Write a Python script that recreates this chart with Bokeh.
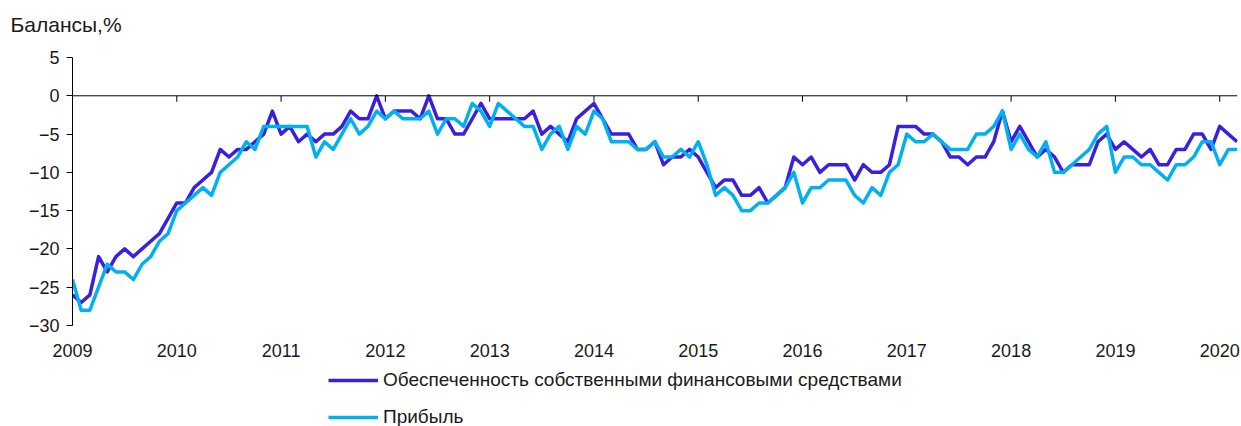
from bokeh.plotting import figure
from bokeh.layouts import column
from bokeh.models import FixedTicker, Span, Legend, LegendItem, Range1d, ColumnDataSource
from bokeh.embed import file_html
from bokeh.resources import INLINE

# ---- data (monthly, Jan 2009 - Mar 2020) ----
start_year = 2009
year_ticks = list(range(2009, 2021))
y_ticks = [-30, -25, -20, -15, -10, -5, 0, 5]

title_text = "Балансы,%"
label_a = "Обеспеченность собственными финансовыми средствами"
label_b = "Прибыль"

series_a = [
    -26, -27, -26, -21, -23, -21, -20, -21, -20, -19, -18, -16,   # 2009
    -14, -14, -12, -11, -10, -7, -8, -7, -7, -6, -5, -2,          # 2010
    -5, -4, -6, -5, -6, -5, -5, -4, -2, -3, -3, 0,                # 2011
    -3, -2, -2, -2, -3, 0, -3, -3, -5, -5, -3, -1,                # 2012
    -3, -3, -3, -3, -3, -2, -5, -4, -5, -6, -3, -2,               # 2013
    -1, -3, -5, -5, -5, -7, -7, -6, -9, -8, -8, -7,               # 2014
    -8, -10, -12, -11, -11, -13, -13, -12, -14, -13, -12, -8,     # 2015
    -9, -8, -10, -9, -9, -9, -11, -9, -10, -10, -9, -4,           # 2016
    -4, -4, -5, -5, -6, -8, -8, -9, -8, -8, -6, -2,               # 2017
    -6, -4, -6, -8, -7, -8, -10, -9, -9, -9, -6, -5,              # 2018
    -7, -6, -7, -8, -7, -9, -9, -7, -7, -5, -5, -7,               # 2019
    -4, -5, -6,                                                   # 2020
]

series_b = [
    -24, -28, -28, -25, -22, -23, -23, -24, -22, -21, -19, -18,   # 2009
    -15, -14, -13, -12, -13, -10, -9, -8, -6, -7, -4, -4,         # 2010
    -4, -4, -4, -4, -8, -6, -7, -5, -3, -5, -4, -2,               # 2011
    -3, -2, -3, -3, -3, -2, -5, -3, -3, -4, -1, -2,               # 2012
    -4, -1, -2, -3, -4, -4, -7, -5, -4, -7, -4, -5,               # 2013
    -2, -3, -6, -6, -6, -7, -7, -6, -8, -8, -7, -8,               # 2014
    -6, -9, -13, -12, -13, -15, -15, -14, -14, -13, -12, -10,     # 2015
    -14, -12, -12, -11, -11, -11, -13, -14, -12, -13, -10, -9,    # 2016
    -5, -6, -6, -5, -6, -7, -7, -7, -5, -5, -4, -2,               # 2017
    -7, -5, -7, -8, -6, -10, -10, -9, -8, -7, -5, -4,             # 2018
    -10, -8, -8, -9, -9, -10, -11, -9, -9, -8, -6, -6,            # 2019
    -9, -7, -7,                                                   # 2020
]

x = [start_year + i / 12 for i in range(len(series_a))]

FONT = "Liberation Sans"
TXT = "#1a1a1a"
COL_A = "#3b1fe0"
COL_B = "#00b0f0"
LW = 3.5

# ---- title strip ----
tt = figure(width=1241, height=48, output_backend="svg", toolbar_location=None,
            title=title_text, x_axis_type=None, y_axis_type=None, min_border=0,
            x_range=Range1d(0, 1), y_range=Range1d(0, 1))
tt.outline_line_color = None
tt.grid.visible = False
tt.title.align = "left"
tt.title.vertical_align = "bottom"
tt.title.offset = -62
tt.title.text_font = FONT
tt.title.text_font_size = "21px"
tt.title.text_font_style = "normal"
tt.title.text_color = TXT
tt.title.standoff = 20

# ---- main chart ----
p = figure(width=1241, height=320, output_backend="svg", toolbar_location=None,
           title=None,
           x_range=Range1d(start_year, x[-1] + 0.004), y_range=Range1d(-30, 5),
           min_border_left=72, min_border_right=4, min_border_top=9, min_border_bottom=43)
p.outline_line_color = None
p.grid.visible = False

xa = p.xaxis[0]
xa.ticker = FixedTicker(ticks=year_ticks)
xa.axis_line_color = None
xa.major_tick_line_color = None
xa.minor_tick_line_color = None
xa.major_tick_out = 0
xa.major_tick_in = 0
xa.major_label_standoff = 18
xa.major_label_text_font = FONT
xa.major_label_text_font_size = "18px"
xa.major_label_text_color = TXT

ya = p.yaxis[0]
ya.ticker = FixedTicker(ticks=y_ticks)
ya.axis_line_color = "black"
ya.major_tick_line_color = "black"
ya.minor_tick_line_color = None
ya.major_tick_out = 6
ya.major_tick_in = 0
ya.major_label_standoff = 7
ya.major_label_text_font = FONT
ya.major_label_text_font_size = "18px"
ya.major_label_text_color = TXT

# zero line with year ticks
p.add_layout(Span(location=0, dimension="width", line_color="black", line_width=1))
tick_len = 6 * 35 / 268
p.segment(x0=year_ticks[1:], y0=[0] * len(year_ticks[1:]), x1=year_ticks[1:],
          y1=[-tick_len] * len(year_ticks[1:]), line_color="black", line_width=1)

src = ColumnDataSource(dict(x=x, a=series_a, b=series_b))
p.line("x", "a", source=src, line_color=COL_A, line_width=LW, line_join="round")
p.line("x", "b", source=src, line_color=COL_B, line_width=LW, line_join="round")

# ---- legend strip (its own ranges keep the proxy lines out of view) ----
lg = figure(width=1241, height=58, output_backend="svg", toolbar_location=None,
            x_axis_type=None, y_axis_type=None, min_border=0,
            x_range=Range1d(0, 1), y_range=Range1d(0, 1))
lg.outline_line_color = None
lg.grid.visible = False
la = lg.line("x", "a", source=src, line_color=COL_A, line_width=LW)
lb = lg.line("x", "b", source=src, line_color=COL_B, line_width=LW)
legend = Legend(items=[LegendItem(label=label_a, renderers=[la]),
                       LegendItem(label=label_b, renderers=[lb])],
                location=(256, -2), orientation="vertical",
                background_fill_alpha=0, border_line_color=None,
                padding=0, margin=0, spacing=15,
                glyph_width=50, glyph_height=16, label_height=16,
                label_standoff=5, label_text_font=FONT,
                label_text_font_size="19px", label_text_color=TXT)
lg.add_layout(legend, "center")

layout = column(tt, p, lg, spacing=0)
open("out.html", "w").write(file_html(layout, INLINE))
